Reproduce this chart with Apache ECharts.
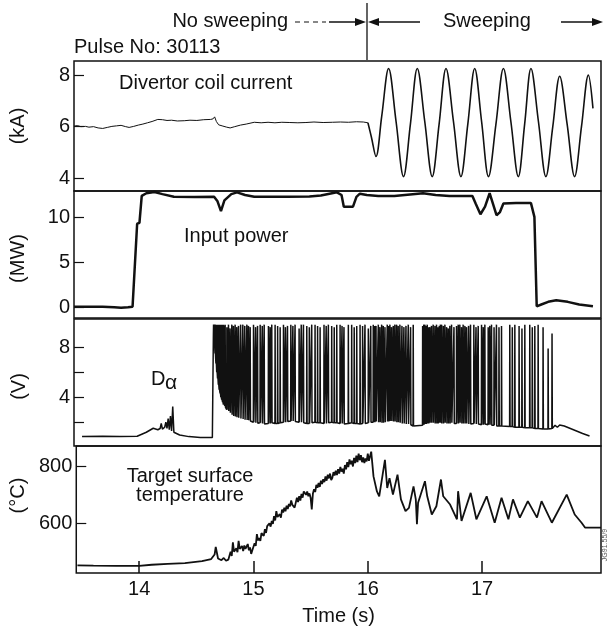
<!DOCTYPE html>
<html>
<head>
<meta charset="utf-8">
<script src="https://cdn.jsdelivr.net/npm/echarts@6/dist/echarts.min.js"></script>
<style>
html,body{margin:0;padding:0;background:#fff;}
#chart{width:607px;height:627px;}
</style>
</head>
<body>
<div id="chart"></div>
<script>
// ---------- data ----------
const timeTicks = [14, 15, 16, 17];
const coilTicks = [4, 6, 8];
const powerTicks = [0, 5, 10];
const dalphaTicks = [2, 4, 6, 8];
const dalphaLabels = [4, 8];
const tempTicks = [600, 800];

// Divertor coil current (kA) – before sweeping
const coilFlat = [[13.45,6.02],[13.48,6.04],[13.51,6.0],[13.55,6.01],[13.58,5.98],[13.62,6.0],[13.66,5.95],[13.70,5.93],[13.74,5.97],[13.78,6.01],[13.82,6.03],[13.86,6.05],[13.90,6.0],[13.93,5.97],[13.97,6.01],[14.01,6.06],[14.05,6.1],[14.09,6.15],[14.13,6.2],[14.18,6.28],[14.22,6.27],[14.26,6.24],[14.30,6.25],[14.35,6.22],[14.41,6.23],[14.46,6.25],[14.52,6.24],[14.58,6.27],[14.64,6.28],[14.66,6.3],[14.675,6.38],[14.69,6.2],[14.71,6.07],[14.74,6.03],[14.78,5.98],[14.81,5.95],[14.85,6.0],[14.90,6.06],[14.95,6.1],[15.02,6.17],[15.08,6.15],[15.14,6.17],[15.20,6.15],[15.26,6.17],[15.33,6.16],[15.40,6.15],[15.47,6.16],[15.54,6.18],[15.62,6.16],[15.70,6.17],[15.77,6.18],[15.84,6.17],[15.91,6.19],[15.97,6.18],[16.01,6.15]];
// Divertor coil current (kA) – sweeping
const coilSweep = [[16.01,6.15],[16.04,5.6],[16.08,4.84],[16.13,6.4],[16.19,8.26],[16.255,6.2],[16.32,4.06],[16.38,6.1],[16.44,8.26],[16.505,6.2],[16.57,4.06],[16.63,6.1],[16.69,8.26],[16.755,6.2],[16.82,4.06],[16.88,6.1],[16.94,8.26],[17.0,6.2],[17.06,4.06],[17.125,6.1],[17.19,8.26],[17.255,6.2],[17.32,4.06],[17.375,6.1],[17.43,8.26],[17.495,6.2],[17.56,4.06],[17.62,6.0],[17.68,7.96],[17.745,6.1],[17.81,4.06],[17.87,6.0],[17.93,8.0],[17.97,6.71]];

// Input power (MW)
const power = [[13.45,0.05],[13.70,0.05],[13.80,0.0],[13.86,-0.05],[13.92,0.0],[13.96,0.05],[14.00,9.3],[14.02,9.4],[14.04,12.4],[14.08,12.7],[14.15,12.83],[14.22,12.6],[14.32,12.3],[14.50,12.28],[14.67,12.3],[14.70,11.8],[14.73,10.7],[14.76,11.9],[14.82,12.6],[14.87,12.8],[14.94,12.5],[15.02,12.3],[15.30,12.3],[15.50,12.35],[15.60,12.45],[15.74,12.8],[15.78,12.5],[15.80,11.2],[15.88,11.2],[15.91,12.3],[15.94,12.65],[16.0,12.5],[16.10,12.4],[16.24,12.4],[16.40,12.6],[16.49,12.7],[16.60,12.5],[16.72,12.4],[16.92,12.4],[16.95,11.5],[16.99,10.36],[17.03,11.2],[17.07,12.7],[17.10,11.5],[17.13,10.25],[17.16,10.6],[17.19,11.55],[17.30,11.6],[17.43,11.6],[17.46,10.07],[17.48,0.1],[17.52,0.3],[17.58,0.6],[17.65,0.77],[17.75,0.6],[17.85,0.3],[17.97,0.1]];

// D-alpha (V): before ELMs
const dalphaPre = [[13.52,0.85],[13.70,0.87],[13.85,0.85],[14.00,0.88],[14.08,1.2],[14.14,1.52],[14.18,1.4],[14.20,1.5],[14.21,1.9],[14.22,1.45],[14.24,1.6],[14.25,2.0],[14.26,1.5],[14.27,2.3],[14.28,1.4],[14.29,2.5],[14.30,1.3],[14.31,3.25],[14.32,1.2],[14.37,0.98],[14.45,0.85],[14.55,0.77],[14.655,0.78]];
// D-alpha ELM spikes: [time, base level, spike peak]
const dalphaSpikes = [[14.664,9.0,9.8],[14.671,8.2,9.8],[14.678,7.5,9.8],[14.686,6.7,9.8],[14.693,6.0,9.8],[14.700,5.5,9.8],[14.707,5.0,9.8],[14.714,4.6,9.8],[14.722,4.3,9.8],[14.729,4.0,9.8],[14.736,3.8,9.8],[14.744,3.6,9.8],[14.751,3.4,9.8],[14.758,3.3,9.7],[14.765,3.2,9.8],[14.780,3.0,9.6],[14.794,2.9,9.8],[14.808,2.75,9.5],[14.823,2.6,9.8],[14.837,2.5,9.7],[14.852,2.45,9.8],[14.866,2.4,9.6],[14.881,2.35,9.7],[14.900,2.3,9.8],[14.919,2.25,9.8],[14.936,2.2,9.7],[14.954,2.18,9.8],[14.968,2.15,9.7],[14.983,2.1,9.6],[15.012,2.0,9.8],[15.030,1.95,9.6],[15.047,1.92,9.7],[15.070,1.95,9.8],[15.088,1.9,9.7],[15.105,1.85,9.8],[15.142,1.9,9.7],[15.157,1.9,9.6],[15.171,1.95,9.8],[15.200,1.9,9.8],[15.222,1.9,9.7],[15.244,1.95,9.6],[15.273,2.0,9.8],[15.290,2.0,9.6],[15.308,2.05,9.7],[15.337,2.1,9.8],[15.355,2.1,9.7],[15.374,2.05,9.8],[15.409,2.0,9.5],[15.428,2.0,9.8],[15.447,1.95,9.8],[15.476,1.9,9.7],[15.498,1.9,9.6],[15.519,1.95,9.8],[15.548,2.0,9.8],[15.570,1.95,9.7],[15.592,1.95,9.6],[15.626,1.9,9.8],[15.645,1.9,9.7],[15.664,1.95,9.8],[15.693,2.0,9.7],[15.715,1.95,9.6],[15.737,1.95,9.8],[15.766,1.9,9.8],[15.783,1.9,9.7],[15.800,1.85,9.6],[15.838,1.9,9.8],[15.867,1.95,9.8],[15.889,1.9,9.6],[15.911,1.9,9.7],[15.940,1.85,9.8],[15.962,1.9,9.7],[15.983,1.9,9.8],[16.012,1.95,9.5],[16.033,2.0,9.7],[16.055,2.0,9.8],[16.067,2.0,9.7],[16.079,2.05,9.7],[16.099,2.0,9.8],[16.113,2.0,9.6],[16.128,1.95,9.8],[16.142,1.95,9.7],[16.157,2.0,9.6],[16.177,2.05,9.8],[16.188,2.05,9.7],[16.200,2.1,9.8],[16.214,2.1,9.6],[16.229,2.05,9.7],[16.243,2.05,9.8],[16.258,2.0,9.8],[16.272,2.0,9.7],[16.287,1.95,9.8],[16.305,1.9,9.7],[16.322,1.9,9.6],[16.340,1.85,9.7],[16.360,1.85,9.8],[16.380,1.8,9.6],[16.403,1.7,9.8],[16.485,1.75,9.7],[16.495,1.8,9.8],[16.505,1.85,9.8],[16.515,1.85,9.7],[16.525,1.9,9.8],[16.536,1.9,9.6],[16.548,1.95,9.6],[16.562,1.95,9.7],[16.577,1.95,9.8],[16.592,1.9,9.7],[16.606,1.9,9.8],[16.618,1.9,9.6],[16.630,1.95,9.7],[16.640,1.95,9.8],[16.650,1.9,9.8],[16.665,1.9,9.7],[16.679,1.95,9.8],[16.694,1.9,9.6],[16.708,1.9,9.5],[16.722,1.9,9.7],[16.737,1.95,9.8],[16.758,1.9,9.6],[16.780,1.9,9.7],[16.795,1.9,9.8],[16.809,1.95,9.8],[16.824,1.9,9.6],[16.838,1.9,9.8],[16.853,1.9,9.7],[16.867,1.9,9.6],[16.885,1.85,9.7],[16.902,1.85,9.8],[16.931,1.9,9.8],[16.950,1.85,9.6],[16.969,1.85,9.7],[16.998,1.8,9.8],[17.013,1.8,9.6],[17.027,1.85,9.8],[17.056,1.8,9.6],[17.070,1.8,9.7],[17.085,1.75,9.8],[17.107,1.75,9.6],[17.128,1.7,9.8],[17.150,1.7,9.6],[17.172,1.7,9.7],[17.244,1.65,9.8],[17.266,1.65,9.6],[17.288,1.6,9.8],[17.325,1.6,9.7],[17.350,1.6,9.5],[17.375,1.55,9.8],[17.418,1.55,9.8],[17.440,1.55,9.6],[17.462,1.5,9.7],[17.491,1.5,9.8],[17.534,1.45,9.6],[17.578,1.45,7.9],[17.612,1.5,9.1]];
// D-alpha after ELMs
const dalphaPost = [[17.64,1.75],[17.66,1.6],[17.68,1.78],[17.72,1.7],[17.80,1.4],[17.88,1.1],[17.94,0.9]];

// Target surface temperature (°C)
const temperature = [[13.46,452],[13.60,451],[13.80,450],[14.00,450],[14.11,454],[14.25,457],[14.40,460],[14.55,467],[14.63,474],[14.66,490],[14.67,517],[14.69,476],[14.72,470],[14.74,478],[14.76,468],[14.78,472],[14.80,500],[14.81,485],[14.82,533],[14.83,500],[14.84,495],[14.85,512],[14.86,498],[14.87,538],[14.88,510],[14.89,505],[14.90,520],[14.91,502],[14.92,522],[14.93,510],[14.95,527],[14.96,505],[14.97,515],[14.98,492],[14.99,505],[15.00,509],[15.01,530],[15.02,520],[15.03,562],[15.04,540],[15.05,548],[15.06,538],[15.07,565],[15.08,570],[15.09,556],[15.10,579],[15.11,566],[15.12,590],[15.13,584],[15.14,600],[15.15,588],[15.16,608],[15.17,598],[15.18,625],[15.19,610],[15.20,643],[15.21,622],[15.22,615],[15.23,632],[15.24,620],[15.25,648],[15.26,638],[15.27,655],[15.28,642],[15.29,662],[15.30,650],[15.31,668],[15.32,660],[15.33,680],[15.34,665],[15.35,672],[15.36,655],[15.37,662],[15.38,690],[15.39,675],[15.40,695],[15.41,680],[15.42,703],[15.43,690],[15.44,712],[15.45,719],[15.46,700],[15.47,712],[15.48,695],[15.49,705],[15.50,690],[15.51,649],[15.52,705],[15.53,720],[15.54,710],[15.55,735],[15.56,725],[15.57,742],[15.58,728],[15.59,750],[15.60,738],[15.61,755],[15.62,745],[15.63,765],[15.64,750],[15.65,771],[15.66,758],[15.67,775],[15.68,752],[15.69,760],[15.70,780],[15.71,768],[15.72,785],[15.73,770],[15.74,790],[15.75,775],[15.76,798],[15.77,782],[15.78,792],[15.79,775],[15.80,805],[15.81,790],[15.82,815],[15.83,798],[15.84,825],[15.85,808],[15.86,820],[15.87,800],[15.88,830],[15.89,812],[15.90,838],[15.91,815],[15.92,845],[15.93,822],[15.94,840],[15.95,815],[15.96,832],[15.97,812],[15.98,828],[15.99,818],[16.00,845],[16.01,820],[16.03,852],[16.05,765],[16.08,712],[16.10,695],[16.13,771],[16.15,823],[16.17,724],[16.19,759],[16.22,701],[16.26,771],[16.29,684],[16.33,643],[16.36,654],[16.40,730],[16.42,684],[16.43,597],[16.44,672],[16.50,748],[16.52,695],[16.56,631],[16.60,660],[16.64,754],[16.66,695],[16.72,666],[16.78,614],[16.79,713],[16.82,608],[16.90,707],[16.95,614],[17.04,695],[17.11,602],[17.17,690],[17.23,614],[17.27,684],[17.33,620],[17.40,678],[17.48,620],[17.52,678],[17.61,602],[17.74,701],[17.81,631],[17.87,602],[17.90,585],[18.04,585]];

// ---------- build ----------
const dalpha = dalphaPre.slice();
dalphaSpikes.forEach(function (s) {
  dalpha.push([s[0], s[1]]);
  dalpha.push([s[0] + 0.0015, s[2]]);
  dalpha.push([s[0] + 0.004, s[1]]);
});
dalphaPost.forEach(function (p) { dalpha.push(p); });

const FONT = "'Liberation Sans', Arial, Helvetica, sans-serif";
const INK = '#111';
const XMIN = 13.45, XMAX = 18.04;

const gridTops = [61, 191, 319, 446];
const gridHeights = [130, 127, 127, 128];
const grids = gridTops.map(function (t, i) {
  return { left: 74, right: 6, top: t, height: gridHeights[i], show: true, borderColor: INK, borderWidth: 1.5, backgroundColor: 'transparent' };
});

const xAxes = [0, 1, 2, 3].map(function (i) {
  const last = i === 3;
  return {
    type: 'value', gridIndex: i, min: XMIN, max: XMAX,
    axisLine: { show: false }, splitLine: { show: false },
    axisTick: last ? { show: true, inside: true, length: 12, customValues: timeTicks, lineStyle: { color: INK, width: 1.5 } } : { show: false },
    axisLabel: last ? { show: true, customValues: timeTicks, margin: 6, fontSize: 20, fontFamily: FONT, color: INK } : { show: false },
    name: last ? 'Time (s)' : '', nameLocation: 'middle', nameGap: 33,
    nameTextStyle: { fontSize: 20, fontFamily: FONT, color: INK }
  };
});

function yAxis(i, min, max, ticks, labels, name, gap, pad) {
  return {
    type: 'value', gridIndex: i, min: min, max: max,
    axisLine: { show: false }, splitLine: { show: false },
    axisTick: { show: true, inside: true, length: 10, customValues: ticks, lineStyle: { color: INK, width: 1.2 } },
    axisLabel: { show: true, customValues: labels, margin: 4, fontSize: 20, fontFamily: FONT, color: INK },
    name: name, nameLocation: 'middle', nameGap: gap, nameRotate: 90,
    nameTextStyle: { fontSize: 20, fontFamily: FONT, color: INK, padding: pad }
  };
}

const yAxes = [
  yAxis(0, 3.5, 8.55, coilTicks, coilTicks, '(kA)', 46, [0, 0, 0, 0]),
  yAxis(1, -1.2, 12.95, powerTicks, powerTicks, '(MW)', 46, [0, 8, 0, 0]),
  yAxis(2, 0.1, 10.25, dalphaTicks, dalphaLabels, '(V)', 45, [0, 8, 0, 0]),
  yAxis(3, 425, 872, tempTicks, tempTicks, '(°C)', 47, [0, 0, 0, 28])
];

function line(i, data, width, smooth) {
  return {
    type: 'line', xAxisIndex: i, yAxisIndex: i, data: data,
    showSymbol: false, symbol: 'none', smooth: smooth || false,
    lineStyle: { color: INK, width: width }, silent: true
  };
}

function txt(x, y, text, align, size) {
  return {
    type: 'text', silent: true,
    style: { text: text, x: x, y: y, font: (size || 20) + 'px ' + FONT, fill: INK,
      align: align || 'left', verticalAlign: 'middle', textAlign: align || 'left', textVerticalAlign: 'middle' }
  };
}

const AY = 22;
const graphics = [
  txt(288, 21, 'No sweeping', 'right'),
  { type: 'line', silent: true, shape: { x1: 295, y1: AY, x2: 326, y2: AY }, style: { stroke: INK, lineWidth: 1.2, lineDash: [5, 4] } },
  { type: 'line', silent: true, shape: { x1: 329, y1: AY, x2: 358, y2: AY }, style: { stroke: INK, lineWidth: 1.5 } },
  { type: 'polygon', silent: true, shape: { points: [[366, AY], [355, AY - 4], [355, AY + 4]] }, style: { fill: INK } },
  { type: 'line', silent: true, shape: { x1: 367, y1: 3, x2: 367, y2: 60 }, style: { stroke: INK, lineWidth: 1.3 } },
  { type: 'polygon', silent: true, shape: { points: [[368, AY], [379, AY - 4], [379, AY + 4]] }, style: { fill: INK } },
  { type: 'line', silent: true, shape: { x1: 378, y1: AY, x2: 420, y2: AY }, style: { stroke: INK, lineWidth: 1.5 } },
  txt(443, 21, 'Sweeping', 'left'),
  { type: 'line', silent: true, shape: { x1: 561, y1: AY, x2: 594, y2: AY }, style: { stroke: INK, lineWidth: 1.5 } },
  { type: 'polygon', silent: true, shape: { points: [[603, AY], [592, AY - 4], [592, AY + 4]] }, style: { fill: INK } },
  txt(74, 47, 'Pulse No: 30113', 'left'),
  txt(119, 83, 'Divertor coil current', 'left'),
  txt(184, 236, 'Input power', 'left'),
  txt(151, 379, 'D', 'left', 20),
  txt(165, 383, 'α', 'left', 21),
  { type: 'text', silent: true,
    style: { text: 'Target surface\ntemperature', x: 190, y: 486, font: '20px ' + FONT, fill: INK, lineHeight: 19,
      align: 'center', verticalAlign: 'middle', textAlign: 'center', textVerticalAlign: 'middle' } },
  { type: 'text', silent: true, rotation: Math.PI / 2, x: 605, y: 545,
    style: { text: 'JG91.55/9', x: 0, y: 0, font: '7px ' + FONT, fill: '#555',
      align: 'center', verticalAlign: 'middle', textAlign: 'center', textVerticalAlign: 'middle' } }
];

const chart = echarts.init(document.getElementById('chart'), null, { renderer: 'canvas' });
chart.setOption({
  animation: false,
  backgroundColor: '#fff',
  grid: grids,
  xAxis: xAxes,
  yAxis: yAxes,
  series: [
    line(0, coilFlat, 1.0),
    line(0, coilSweep, 1.6, 0.35),
    line(1, power, 2.5),
    line(2, dalpha, 1.5),
    line(3, temperature, 1.8)
  ],
  graphic: graphics
});
</script>
</body>
</html>
